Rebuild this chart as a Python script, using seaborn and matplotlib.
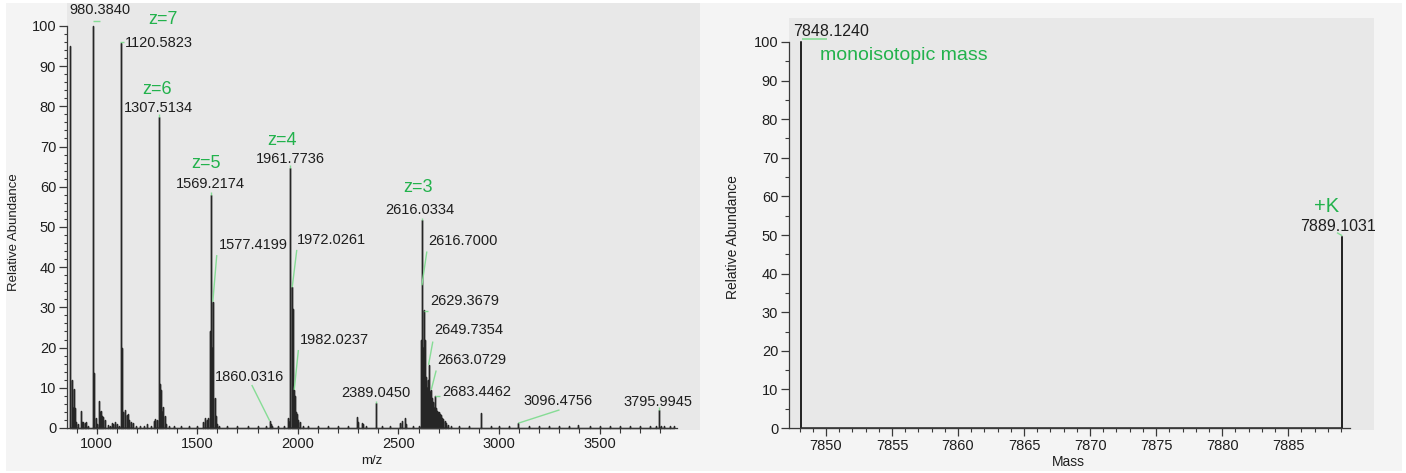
import numpy as np
import pandas as pd
import matplotlib
matplotlib.use("Agg")
import matplotlib.pyplot as plt
from matplotlib.ticker import FixedLocator
from matplotlib.patches import Rectangle
import seaborn as sns

# ---------------- data: left panel (m/z spectrum) ----------------
mz = [
    867.5, 868.2, 875.9, 880.0, 887.4, 891.0, 897.0, 905.0, 923.0, 927.0, 934.0, 941.0, 949.0, 958.0,
    980.3840, 981.0, 985.5, 988.0, 995.0, 1003.0, 1011.7, 1016.7, 1021.0, 1026.0, 1033.0, 1041.6, 1055.0, 1066.0, 1075.0, 1082.0, 1090.0, 1100.0, 1110.0,
    1120.5823, 1121.3, 1122.5, 1125.0, 1128.0, 1133.0, 1141.0, 1149.0, 1156.0, 1163.0, 1172.0, 1182.0, 1195.0, 1215.0, 1235.0, 1249.0, 1268.0, 1285.0, 1292.0, 1298.0,
    1307.5134, 1308.2, 1311.0, 1315.0, 1320.0, 1326.0, 1331.6, 1338.0, 1345.0, 1360.0, 1385.0, 1420.0, 1460.0, 1500.0, 1530.0, 1540.0, 1548.0, 1553.0, 1564.0,
    1569.2174, 1572.0, 1577.4199, 1580.0, 1587.0, 1592.0, 1598.0, 1610.0, 1650.0, 1700.0, 1750.0, 1800.0, 1840.0,
    1860.0316, 1866.0, 1873.0, 1900.0, 1930.0, 1950.0, 1955.0,
    1961.7736, 1962.5, 1972.0261, 1973.5, 1975.0, 1978.0, 1982.0237, 1984.5, 1988.0, 1992.0, 1996.0, 2002.0, 2010.0, 2025.0, 2050.0, 2100.0, 2150.0, 2200.0, 2250.0, 2293.0, 2300.0, 2318.0, 2326.0, 2340.0,
    2389.0450, 2420.0, 2460.0, 2508.0, 2516.0, 2533.0, 2540.0, 2570.0, 2600.0, 2612.0, 2614.5,
    2616.0334, 2616.7000, 2617.4, 2618.1, 2619.2, 2621.0, 2624.0, 2629.3679, 2630.5, 2633.0, 2636.0, 2640.0, 2645.0, 2649.7354, 2652.0, 2656.0, 2660.0, 2663.0729, 2666.0, 2670.0, 2675.0, 2679.0, 2683.4462, 2687.0, 2692.0, 2697.0, 2702.0, 2708.0, 2713.0, 2718.0, 2724.0, 2730.0, 2738.0, 2748.0, 2760.0, 2800.0, 2850.0, 2910.0, 2960.0, 3000.0, 3050.0,
    3096.4756, 3150.0, 3200.0, 3250.0, 3300.0, 3350.0, 3393.0, 3450.0, 3500.0, 3550.0, 3600.0, 3650.0, 3700.0, 3750.0, 3780.0,
    3795.9945, 3803.0, 3820.0, 3850.0, 3870.0,
]
abundance = [
    95.0, 62.0, 12.0, 5.0, 9.7, 5.0, 1.5, 1.0, 4.2, 1.5, 1.4, 1.2, 1.5, 0.6,
    100.0, 66.7, 13.6, 5.0, 2.4, 1.0, 6.7, 4.0, 4.2, 3.0, 2.8, 2.0, 0.8, 0.5, 1.2, 1.0, 1.6, 1.0, 0.6,
    95.7, 91.4, 27.4, 20.0, 13.0, 4.0, 4.5, 3.2, 3.5, 2.0, 1.5, 1.3, 0.6, 0.4, 0.5, 1.0, 0.5, 1.8, 2.3, 2.0,
    77.4, 75.4, 11.2, 11.0, 9.5, 4.0, 5.3, 3.0, 1.0, 0.5, 0.4, 0.4, 0.4, 0.5, 1.5, 2.5, 2.0, 2.4, 24.0,
    58.0, 20.0, 31.4, 7.0, 7.4, 3.0, 1.0, 0.5, 0.4, 0.4, 0.4, 0.4, 0.4,
    1.8, 1.0, 0.6, 0.4, 0.4, 2.5, 1.5,
    64.7, 20.0, 35.0, 29.5, 14.4, 9.0, 9.5, 8.0, 7.4, 4.0, 3.6, 2.0, 1.5, 0.6, 0.4, 0.4, 0.4, 0.4, 0.4, 2.8, 1.5, 1.2, 0.9, 0.5,
    6.2, 0.4, 0.4, 1.2, 1.7, 2.5, 1.0, 0.4, 0.5, 10.0, 22.0,
    51.7, 35.5, 47.0, 40.0, 30.0, 20.0, 12.0, 29.3, 22.0, 18.6, 12.8, 10.0, 12.0, 15.7, 12.0, 9.0, 7.0, 9.5, 7.5, 6.5, 5.0, 4.5, 8.0, 5.0, 4.3, 4.0, 4.0, 3.6, 3.2, 2.6, 2.2, 1.8, 1.2, 0.8, 0.5, 0.4, 0.4, 3.8, 0.4, 0.4, 0.4,
    1.2, 0.4, 0.4, 0.5, 0.4, 0.4, 0.8, 0.4, 0.5, 0.4, 0.4, 0.5, 0.4, 0.4, 0.5,
    4.5, 0.6, 0.5, 0.4, 0.4,
]
assert len(mz) == len(abundance)

# labelled peaks (m/z values printed on the chart)
peak_label_mz = [980.3840, 1120.5823, 1307.5134, 1569.2174, 1961.7736, 2616.0334,
                 1577.4199, 1972.0261, 1982.0237, 1860.0316, 2389.0450, 2616.7000,
                 2629.3679, 2649.7354, 2663.0729, 2683.4462, 3096.4756, 3795.9945]
charge_labels = ["z=7", "z=6", "z=5", "z=4", "z=3"]

# ---------------- data: right panel (deconvoluted mass) ----------------
mass = [7848.1240, 7889.1031]
mass_abundance = [100.0, 49.5]
mass_notes = ["monoisotopic mass", "+K"]

# ---------------- layout (positions in data units) ----------------
# text x, text y (center), ha, leader spec
peak_label_layout = {
    980.3840:  (1016.7, 103.9, "center", ("tick", 981.0, 1016.0, 101.2)),
    1120.5823: (1141.0, 95.7, "left", ("tick", 1117.0, 1137.0, 96.0)),
    1307.5134: (1305.0, 79.6, "center", ("dot",)),
    1569.2174: (1564.0, 60.7, "center", ("dot",)),
    1961.7736: (1961.5, 66.9, "center", ("dot",)),
    2616.0334: (2608.0, 54.2, "center", ("dot",)),
    1577.4199: (1608.4, 45.5, "left", ("line", 1597.0, 43.0)),
    1972.0261: (1996.3, 46.8, "left", ("line", 1994.8, 44.3)),
    1982.0237: (2011.3, 21.9, "left", ("line", 2002.8, 19.4)),
    1860.0316: (1762.0, 12.8, "center", ("line", 1771.0, 10.7)),
    2389.0450: (2387.7, 8.7, "center", ("dot",)),
    2616.7000: (2647.7, 46.5, "left", ("line", 2641.3, 43.9)),
    2629.3679: (2657.7, 31.7, "left", ("tick", 2628.0, 2647.7, 29.2)),
    2649.7354: (2677.6, 24.4, "left", ("line", 2671.0, 21.5)),
    2663.0729: (2692.5, 16.9, "left", ("line", 2687.6, 14.3)),
    2683.4462: (2716.0, 9.0, "left", ("tick", 2682.6, 2707.0, 8.0)),
    3096.4756: (3294.0, 6.7, "center", ("line", 3300.6, 4.5)),
    3795.9945: (3791.0, 6.5, "center", ("dot",)),
}
charge_layout = [(1330.0, 101.5), (1300.0, 84.3), (1544.0, 65.9), (1921.7, 71.4), (2598.0, 59.7)]

W, H = 1406, 473
GREEN = "#22b24c"
LEAD = "#86dc95"
PEAK = "#262626"
TXT = "#1e1e1e"

sns.set_theme(style="ticks")
plt.rcParams["font.family"] = ["Liberation Sans", "DejaVu Sans"]
plt.rcParams.update({
    "axes.edgecolor": "#3a3a3a",
    "axes.linewidth": 0.9,
    "xtick.color": "#3a3a3a",
    "ytick.color": "#3a3a3a",
    "xtick.labelcolor": TXT,
    "ytick.labelcolor": TXT,
    "axes.labelcolor": TXT,
})


def stick_frame(x, y):
    order = np.argsort(x)
    xs = np.asarray(x, dtype=float)[order]
    ys = np.asarray(y, dtype=float)[order]
    px = np.repeat(xs, 3)
    py = np.column_stack([np.zeros_like(ys), ys, np.zeros_like(ys)]).ravel()
    return pd.DataFrame({"x": px, "y": py})


fig = plt.figure(figsize=(W / 100, H / 100), dpi=100, facecolor="white")
fig.patches.append(Rectangle((6 / W, 2 / H), 1396 / W, 468 / H, transform=fig.transFigure,
                             facecolor="#f4f4f4", edgecolor="none", zorder=-10))

axL = fig.add_axes([67 / W, 43 / H, 633 / W, 427 / H])
axR = fig.add_axes([789 / W, 43 / H, 585 / W, 412 / H])

for ax in (axL, axR):
    ax.set_facecolor("#e8e8e8")
    ax.grid(False)
    ax.spines["top"].set_visible(False)
    ax.spines["right"].set_visible(False)
    ax.spines["bottom"].set_position(("data", 0))

# ---- left panel ----
sns.lineplot(data=stick_frame(mz, abundance), x="x", y="y", sort=False, estimator=None,
             color=PEAK, lw=1.0, ax=axL)
axL.set_xlim(852.6, 3999)
axL.set_ylim(-0.5, 105.7)
axL.spines["left"].set_bounds(0, 100)
axL.spines["bottom"].set_bounds(852.6, 3885)
axL.xaxis.set_major_locator(FixedLocator([1000, 1500, 2000, 2500, 3000, 3500]))
axL.xaxis.set_minor_locator(FixedLocator(np.arange(900, 3801, 100)))
axL.yaxis.set_major_locator(FixedLocator(np.arange(0, 101, 10)))
axL.yaxis.set_minor_locator(FixedLocator(np.arange(0, 101, 2)))
axL.tick_params(axis="y", which="major", length=5.8, width=0.9, pad=2, labelsize=10.5)
axL.tick_params(axis="y", which="minor", length=2.4, width=0.8)
axL.tick_params(axis="x", which="major", length=4.3, width=0.9, pad=2.5, labelsize=10.5)
axL.tick_params(axis="x", which="minor", length=3.4, width=0.8)
axL.set_xlabel("m/z", fontsize=9.5)
axL.set_ylabel("Relative Abundance", fontsize=9.5)
axL.yaxis.set_label_coords(-0.074, 0.464)
axL.xaxis.set_label_coords(0.482, -0.0585)

heights = dict(zip(mz, abundance))
for v in peak_label_mz:
    tx, ty, ha, lead = peak_label_layout[v]
    h = heights[v]
    axL.text(tx, ty, f"{v:.4f}", ha=ha, va="center", fontsize=10.5, color=TXT, zorder=5)
    if lead[0] == "tick":
        axL.plot([lead[1], lead[2]], [lead[3], lead[3]], color=LEAD, lw=1.0, solid_capstyle="butt")
    elif lead[0] == "line":
        axL.plot([lead[1], v], [lead[2], h], color=LEAD, lw=1.0, solid_capstyle="butt")
    else:
        axL.plot([v, v], [h, h + 0.6], color=LEAD, lw=1.0, solid_capstyle="butt")

for lab, (tx, ty) in zip(charge_labels, charge_layout):
    axL.text(tx, ty, lab, ha="center", va="center", fontsize=13, color=GREEN)

# ---- right panel ----
sns.lineplot(data=stick_frame(mass, mass_abundance), x="x", y="y", sort=False, estimator=None,
             color=PEAK, lw=1.1, ax=axR)
axR.set_xlim(7847.2, 7891.5)
axR.set_ylim(-0.5, 106.2)
axR.spines["left"].set_bounds(0, 100)
axR.spines["bottom"].set_bounds(7847.2, 7889.7)
axR.xaxis.set_major_locator(FixedLocator(np.arange(7850, 7886, 5)))
axR.xaxis.set_minor_locator(FixedLocator(np.arange(7848, 7890, 1)))
axR.yaxis.set_major_locator(FixedLocator(np.arange(0, 101, 10)))
axR.yaxis.set_minor_locator(FixedLocator(np.arange(0, 101, 5)))
axR.tick_params(axis="y", which="major", length=5.8, width=0.9, pad=2, labelsize=10.5)
axR.tick_params(axis="y", which="minor", length=2.9, width=0.8)
axR.tick_params(axis="x", which="major", length=5.5, width=0.9, pad=2.5, labelsize=10.5)
axR.tick_params(axis="x", which="minor", length=2.9, width=0.8)
axR.set_xlabel("Mass", fontsize=10)
axR.set_ylabel("Relative Abundance", fontsize=10)
axR.yaxis.set_label_coords(-0.0838, 0.468)
axR.xaxis.set_label_coords(0.477, -0.0607)

# 7848.1240 label with green underline
axR.text(7847.48, 102.6, f"{mass[0]:.4f}", ha="left", va="center", fontsize=11.5, color=TXT)
axR.plot([7848.16, 7850.1], [100.7, 100.7], color=LEAD, lw=1.2, solid_capstyle="butt")
axR.text(7849.55, 96.6, mass_notes[0], ha="left", va="center", fontsize=14, color=GREEN)
# 7889.1031 label
axR.text(7887.9, 57.3, mass_notes[1], ha="center", va="center", fontsize=14.5, color=GREEN)
axR.text(7888.8, 52.1, f"{mass[1]:.4f}", ha="center", va="center", fontsize=11.5, color=TXT)
axR.plot([7888.7, 7889.1], [50.6, 49.8], color=LEAD, lw=1.0, solid_capstyle="butt")

fig.savefig("out.png", dpi=100, facecolor=fig.get_facecolor())
